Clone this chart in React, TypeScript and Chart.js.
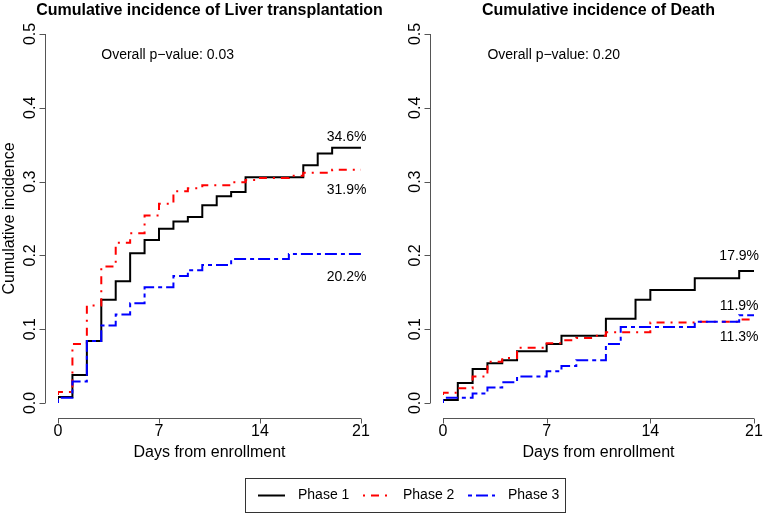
import React, { useEffect, useRef } from "react";
import { Chart, registerables } from "chart.js";

Chart.register(...registerables);

// ---------- data ----------
const xTicks = [0, 7, 14, 21];
const yTicks = [0, 0.1, 0.2, 0.3, 0.4, 0.5];
const yTickLabels = ["0.0", "0.1", "0.2", "0.3", "0.4", "0.5"];
const seriesNames = ["Phase 1", "Phase 2", "Phase 3"];

// Liver transplantation
const ltPhase1X = [0, 0, 1, 2, 3, 4, 5, 6, 7, 8, 9, 10, 11, 12, 13, 17, 18, 19, 21];
const ltPhase1Y = [0, 0.008, 0.038, 0.084, 0.14, 0.165, 0.203, 0.221, 0.236, 0.246, 0.252, 0.268, 0.28, 0.286, 0.306, 0.322, 0.338, 0.346, 0.346];
const ltPhase2X = [0, 0, 1, 2, 3, 4, 5, 6, 7, 8, 9, 10, 12, 13, 14, 16, 17, 19, 21];
const ltPhase2Y = [0, 0.015, 0.08, 0.132, 0.185, 0.217, 0.23, 0.254, 0.27, 0.287, 0.291, 0.295, 0.299, 0.302, 0.305, 0.308, 0.312, 0.316, 0.316];
const ltPhase3X = [0, 0, 1, 2, 3, 4, 5, 6, 8, 9, 10, 12, 16, 21];
const ltPhase3Y = [0, 0.007, 0.029, 0.084, 0.105, 0.12, 0.135, 0.157, 0.172, 0.18, 0.187, 0.195, 0.202, 0.202];
const ltEndLabels = ["34.6%", "31.9%", "20.2%"];
const ltPValue = "Overall p\u2212value: 0.03";

// Death
const dPhase1X = [0, 0, 1, 2, 3, 4, 5, 7, 8, 11, 13, 14, 17, 20, 21];
const dPhase1Y = [0, 0.004, 0.027, 0.046, 0.054, 0.058, 0.07, 0.08, 0.091, 0.114, 0.14, 0.153, 0.169, 0.179, 0.179];
const dPhase2X = [0, 0, 1, 2, 3, 4, 5, 7, 8, 9, 10, 11, 14, 17, 20, 21];
const dPhase2Y = [0, 0.014, 0.02, 0.036, 0.056, 0.061, 0.075, 0.081, 0.085, 0.088, 0.091, 0.096, 0.109, 0.11, 0.113, 0.113];
const dPhase3X = [0, 0, 2, 3, 4, 5, 7, 8, 9, 11, 12, 17, 20, 21];
const dPhase3Y = [0, 0.007, 0.013, 0.021, 0.028, 0.036, 0.043, 0.05, 0.058, 0.08, 0.103, 0.11, 0.119, 0.119];
const dEndLabels = ["17.9%", "11.9%", "11.3%"];
const dPValue = "Overall p\u2212value: 0.20";

// ---------- styles ----------
const W = 763;
const H = 516;
const FONT = '"Liberation Sans", Arial, Helvetica, sans-serif';
const COLORS = ["#000000", "#ff0000", "#0000ff"];
const DASHES: number[][] = [[], [2, 6, 8, 6], [4, 4, 12, 4]];
const AXIS_COLOR = "#555555";

const ltLabelY = [0.3604, 0.2886, 0.1707];
const dLabelY = [0.199, 0.1314, 0.0894];

type Panel = {
  title: string;
  pval: string;
  xs: number[][];
  ys: number[][];
  endLabels: string[];
  endLabelY: number[];
  showYTitle: boolean;
  showLegend: boolean;
  padLeft: number;
  padRight: number;
};

const panels: Panel[] = [
  {
    title: "Cumulative incidence of Liver transplantation",
    pval: ltPValue,
    xs: [ltPhase1X, ltPhase2X, ltPhase3X],
    ys: [ltPhase1Y, ltPhase2Y, ltPhase3Y],
    endLabels: ltEndLabels,
    endLabelY: ltLabelY,
    showYTitle: true,
    showLegend: true,
    padLeft: 58,
    padRight: W - 361,
  },
  {
    title: "Cumulative incidence of Death",
    pval: dPValue,
    xs: [dPhase1X, dPhase2X, dPhase3X],
    ys: [dPhase1Y, dPhase2Y, dPhase3Y],
    endLabels: dEndLabels,
    endLabelY: dLabelY,
    showYTitle: false,
    showLegend: false,
    padLeft: 443,
    padRight: W - 754,
  },
];

function makePlugin(p: Panel) {
  return {
    id: "rstyle",
    afterDraw(chart: any) {
      const ctx = chart.ctx as CanvasRenderingContext2D;
      const xs = chart.scales.x;
      const ys = chart.scales.y;
      const x0 = xs.getPixelForValue(0);
      const x1 = xs.getPixelForValue(21);
      const y0 = ys.getPixelForValue(0);
      const y1 = ys.getPixelForValue(0.5);
      const axisX = Math.round(x0 - 13) + 0.5;
      const axisY = Math.round(y0 + 15) + 0.5;
      ctx.save();
      ctx.setLineDash([]);
      ctx.strokeStyle = AXIS_COLOR;
      ctx.lineWidth = 1;
      ctx.fillStyle = "#000";
      // y axis
      ctx.beginPath();
      ctx.moveTo(axisX, y0);
      ctx.lineTo(axisX, y1);
      yTicks.forEach((v) => {
        const py = Math.round(ys.getPixelForValue(v)) + 0.5;
        ctx.moveTo(axisX, py);
        ctx.lineTo(axisX - 6, py);
      });
      // x axis
      ctx.moveTo(x0, axisY);
      ctx.lineTo(x1, axisY);
      xTicks.forEach((v) => {
        const px = Math.round(xs.getPixelForValue(v)) + 0.5;
        ctx.moveTo(px, axisY);
        ctx.lineTo(px, axisY + 5);
      });
      ctx.stroke();

      ctx.font = `16px ${FONT}`;
      ctx.textAlign = "center";
      ctx.textBaseline = "middle";
      xTicks.forEach((v) => {
        ctx.fillText(String(v), xs.getPixelForValue(v), axisY + 13);
      });
      yTicks.forEach((v, i) => {
        ctx.save();
        ctx.translate(axisX - 15, ys.getPixelForValue(v));
        ctx.rotate(-Math.PI / 2);
        ctx.fillText(yTickLabels[i], 0, 0);
        ctx.restore();
      });
      // axis titles
      ctx.fillText("Days from enrollment", (x0 + x1) / 2, 453);
      if (p.showYTitle) {
        ctx.save();
        ctx.translate(10, (y0 + y1) / 2);
        ctx.rotate(-Math.PI / 2);
        ctx.fillText("Cumulative incidence", 0, 0);
        ctx.restore();
      }
      // main title
      ctx.font = `bold 16px ${FONT}`;
      ctx.fillText(p.title, (x0 + x1) / 2, 11);
      // p-value
      ctx.font = `14px ${FONT}`;
      ctx.textAlign = "left";
      ctx.fillText(p.pval, xs.getPixelForValue(3), ys.getPixelForValue(0.4715));
      // end labels
      ctx.textAlign = "center";
      p.endLabels.forEach((t, i) => {
        ctx.fillText(t, xs.getPixelForValue(20), ys.getPixelForValue(p.endLabelY[i]));
      });

      if (p.showLegend) {
        const bx = 245.5, by = 478.5, bw = 320, bh = 34;
        ctx.strokeStyle = "#333";
        ctx.lineWidth = 1;
        ctx.strokeRect(bx, by, bw, bh);
        const cy = by + bh / 2;
        const lineStarts = [258, 363, 468];
        seriesNames.forEach((name, i) => {
          ctx.beginPath();
          ctx.strokeStyle = COLORS[i];
          ctx.lineWidth = 2;
          ctx.setLineDash(DASHES[i]);
          ctx.moveTo(lineStarts[i], cy);
          ctx.lineTo(lineStarts[i] + 27, cy);
          ctx.stroke();
          ctx.setLineDash([]);
          ctx.fillStyle = "#000";
          ctx.font = `14px ${FONT}`;
          ctx.textAlign = "left";
          ctx.fillText(name, lineStarts[i] + 40, cy);
        });
      }
      ctx.restore();
    },
  };
}

function PanelChart({ p }: { p: Panel }) {
  const ref = useRef<HTMLCanvasElement | null>(null);
  useEffect(() => {
    if (!ref.current) return;
    const datasets = seriesNames.map((name, i) => ({
      label: name,
      data: p.xs[i].map((x, j) => ({ x, y: p.ys[i][j] })),
      borderColor: COLORS[i],
      backgroundColor: COLORS[i],
      borderWidth: 2,
      borderDash: DASHES[i],
      borderCapStyle: "butt" as const,
      pointRadius: 0,
      stepped: true,
      fill: false,
      tension: 0,
    }));
    const chart = new Chart(ref.current, {
      type: "line",
      data: { datasets: [...datasets].reverse() },
      options: {
        animation: false,
        responsive: false,
        devicePixelRatio: 1,
        layout: { padding: { left: p.padLeft, right: p.padRight, top: 34, bottom: H - 403 } },
        plugins: { legend: { display: false }, title: { display: false }, tooltip: { enabled: false } },
        scales: {
          x: { type: "linear", min: 0, max: 21, display: false },
          y: { type: "linear", min: 0, max: 0.5, display: false },
        },
      },
      plugins: [makePlugin(p)],
    });
    return () => chart.destroy();
  }, [p]);
  return (
    <canvas
      ref={ref}
      width={W}
      height={H}
      style={{ position: "absolute", left: 0, top: 0, width: W, height: H }}
    />
  );
}

export default function App() {
  return (
    <div style={{ position: "fixed", left: 0, top: 0, width: W, height: H, background: "#fff", overflow: "hidden" }}>
      {panels.map((p, i) => (
        <PanelChart key={i} p={p} />
      ))}
    </div>
  );
}
